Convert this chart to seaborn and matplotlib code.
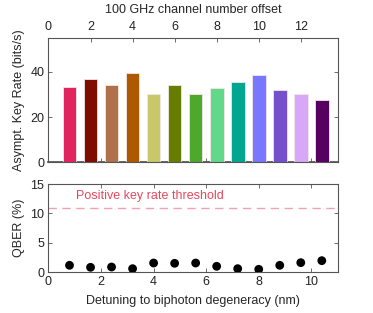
import matplotlib
matplotlib.use("Agg")
import matplotlib.pyplot as plt
import seaborn as sns
import numpy as np
import pandas as pd

channels = [1, 2, 3, 4, 5, 6, 7, 8, 9, 10, 11, 12, 13]
key_rates = [33.3, 36.8, 34.0, 39.3, 30.1, 33.9, 30.1, 33.0, 35.3, 38.5, 31.7, 30.1, 27.6]
detuning_nm = [0.8, 1.6, 2.4, 3.2, 4.0, 4.8, 5.6, 6.4, 7.2, 8.0, 8.8, 9.6, 10.4]
qber = [1.19, 0.85, 0.9, 0.62, 1.58, 1.53, 1.58, 1.02, 0.62, 0.51, 1.19, 1.64, 1.98]
bar_colors = ["#E2245E", "#7F0C00", "#B0704A", "#AE5800", "#C8C86A", "#667E00",
              "#4EA82C", "#62D88A", "#00A690", "#7878FF", "#7650CC", "#D8A8F8", "#560062"]
threshold = 11.0
threshold_label = "Positive key rate threshold"

sns.set_theme(style="ticks")
plt.rcParams['font.family'] = ['Liberation Sans', 'DejaVu Sans']
plt.rcParams['axes.edgecolor'] = '#555555'
plt.rcParams['xtick.color'] = '#555555'
plt.rcParams['ytick.color'] = '#555555'
plt.rcParams['xtick.labelcolor'] = '#222222'
plt.rcParams['ytick.labelcolor'] = '#222222'

fs = 9
fig = plt.figure(figsize=(3.73, 3.13), dpi=100)
ax1 = fig.add_axes([0.130, 0.481, 0.775, 0.399])
ax2 = fig.add_axes([0.130, 0.130, 0.775, 0.282])

df = pd.DataFrame({"ch": channels, "rate": key_rates, "lab": [str(c) for c in channels]})
sns.barplot(data=df, x="ch", y="rate", hue="lab", hue_order=df["lab"].tolist(),
            palette=bar_colors, native_scale=True, width=0.65, legend=False,
            ax=ax1, linewidth=0.6, edgecolor="#f3e6e6", saturation=1)
ax1.set_xlim(0, 13.75)
ax1.set_ylim(0, 55)
ax1.xaxis.set_ticks_position('top')
ax1.xaxis.set_label_position('top')
ax1.set_xticks([0, 2, 4, 6, 8, 10, 12])
ax1.set_yticks([0, 20, 40])
ax1.set_xlabel("100 GHz channel number offset", fontsize=fs, labelpad=6)
ax1.set_ylabel("Asympt. Key Rate (bits/s)", fontsize=fs, labelpad=4)
ax1.tick_params(axis='both', direction='in', labelsize=fs, length=3, width=0.6,
                right=True, top=True, bottom=False, pad=3)
# bottom ticks in nm units
axb = ax1.secondary_xaxis('bottom', functions=(lambda x: x * 0.8, lambda x: x / 0.8))
axb.set_xticks([2, 4, 6, 8, 10])
axb.tick_params(direction='in', length=3, width=0.6, labelbottom=False)
for s in ax1.spines.values():
    s.set_linewidth(0.8)

sns.scatterplot(x=detuning_nm, y=qber, color="black", s=40, edgecolor="none", ax=ax2, zorder=3)
ax2.axhline(threshold, color="#F2A2AC", lw=1.0, dashes=(6, 4))
ax2.text(1.05, 13.0, threshold_label, color="#E8475F", fontsize=fs, va="center", ha="left")
ax2.set_xlim(0, 11)
ax2.set_ylim(0, 15)
ax2.set_xticks([0, 2, 4, 6, 8, 10])
ax2.set_yticks([0, 5, 10, 15])
ax2.set_xlabel("Detuning to biphoton degeneracy (nm)", fontsize=fs, labelpad=5)
ax2.set_ylabel("QBER (%)", fontsize=fs, labelpad=4)
ax2.tick_params(axis='both', direction='in', labelsize=fs, length=3, width=0.6,
                right=True, top=True, pad=3)
for s in ax2.spines.values():
    s.set_linewidth(0.8)

fig.savefig("out.png", dpi=100)
